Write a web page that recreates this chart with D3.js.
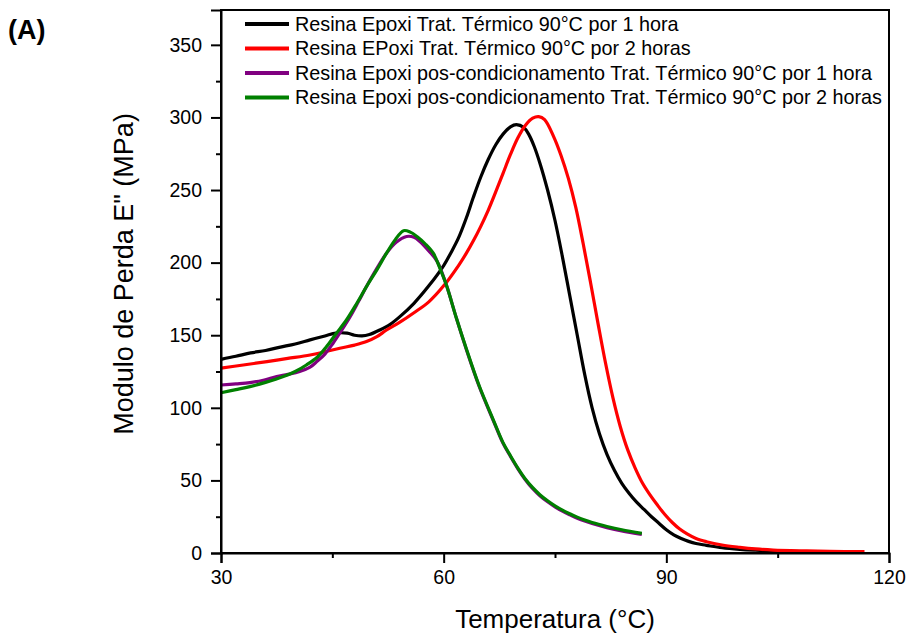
<!DOCTYPE html>
<html>
<head>
<meta charset="utf-8">
<script src="https://cdn.jsdelivr.net/npm/d3@7"></script>
<style>
  body { margin: 0; background: #fff; }
  text { font-family: "Liberation Sans", Arial, sans-serif; fill: #000; }
</style>
</head>
<body>
<svg id="chart" width="910" height="634"></svg>
<script>
// ---------- DATA ----------
const seriesNames = [
  "Resina Epoxi Trat. Térmico 90°C por 1 hora",
  "Resina EPoxi Trat. Térmico 90°C por 2 horas",
  "Resina Epoxi pos-condicionamento Trat. Térmico 90°C por 1 hora",
  "Resina Epoxi pos-condicionamento Trat. Térmico 90°C por 2 horas"
];
const seriesColors = ["#000000", "#ff0000", "#800080", "#008000"];

const tempBlack = [30,32,34,36,38,40,42,44,45.5,47,48,49,50,51.4,52.8,54.1,56,58,60,61,62,63,64,65,66,67,68,69,69.8,70.8,71.5,72.2,73,74,75,76,77,78,79,80,81,82,83,84,85,86,87,88,89,90,91,92,93,94,95.4,97.5,99.9,102,104.4,107,110];
const eBlack    = [133.4,135.5,137.8,139.5,141.8,144,146.8,149.5,151.5,151.4,150,149.5,150.5,153.6,157.5,162.8,172,184,198,207,217,230,245,259,271,281,288.5,293.5,295,293,288,280,268,250,229,204,177,150,123,100,82,68,57,48,41,35,30,25,20.5,16,12.5,10,8,6.5,5.3,3.6,2.5,1.9,1.4,1.1,0.9];

const tempRed = [30,33,36.2,39,42,44,46,48,49.6,51,52.3,54.1,56,58,60,62,63,64,65,66,67,68,69,70,71,72,72.8,73.6,74.8,75.8,76.8,77.8,78.8,79.8,80.8,81.8,82.8,83.8,84.8,85.8,86.8,87.8,88.8,89.8,90.8,91.8,92.8,94,95.4,97.5,99.9,102,104.4,108.9,112,116.7];
const eRed    = [127.3,129.5,131.8,134,136.4,138.6,141,143.2,145.6,149,153.6,159,165.5,173,184,198,206,215,225,236,248.5,261.5,274.5,286,294.5,299.5,300.6,298.5,287,274,258,238,213,186,158,131,107,87,71,58.5,48,40,33,26.5,21,16.5,13.2,10,7.8,5.5,3.9,2.8,2,1.4,1.1,0.9];

const tempPurple = [30,32,33.9,35.7,37.5,39,40.6,42,42.9,44,45.1,46.2,47.4,48.5,49.6,51,52.3,53.6,55,56,56.8,58,59.1,60.4,61.7,63.1,64.8,66.7,68,69,70,71,72,73,74,75,76,77,78,79,80,82,84,86.7];
const ePurple    = [115.7,116.5,117.4,119,121.5,123,125,128,131.8,137,144.5,153,162.8,173,183.5,196,206.5,214,218,217.5,214.5,208,201,184,162,139.5,114.5,91,75.5,66.5,58,50.5,44.3,39.3,35.3,31.8,28.8,26.3,24,22,20.3,17.5,15.2,12.8];

const tempGreen = [30,32,33.9,36,38.4,40,41.5,43,44.2,45.5,46.9,48.3,49.6,51,52.3,53.5,54.6,55.5,56.4,57.5,58.6,59.5,60.4,61.7,63.1,64.8,66.7,68,69,70,71,72,73,74,75,76,77,78,79,80,82,84,86.7];
const eGreen    = [110.4,112.5,114.6,117.5,121.5,125,129.5,135,142,151,160.5,172,183.5,195,206.5,216,222,221,218,213,206.5,196,184,162,140,115,91.6,76,67,58.5,51,45,40,36,32.5,29.5,27,24.7,22.7,21,18.3,16,13.5];

const xTicks = [30, 60, 90, 120];
const xMinorTicks = [45, 75, 105];
const yTicks = [0, 50, 100, 150, 200, 250, 300, 350];
const yMinorTicks = [25, 75, 125, 175, 225, 275, 325];

const xLabel = "Temperatura (°C)";
const yLabel = "Modulo de Perda E\" (MPa)";
const panelLabel = "(A)";

// ---------- CHART ----------
const svg = d3.select("#chart");
const L = 221, R = 889, T = 10, B = 553;
const FONT = "'Liberation Sans', Arial, sans-serif";

const x = d3.scaleLinear().domain([30, 120]).range([L, R]);
const y = d3.scaleLinear().domain([0, 374]).range([B, T]);

const series = [
  {t: tempBlack, e: eBlack},
  {t: tempRed, e: eRed},
  {t: tempPurple, e: ePurple},
  {t: tempGreen, e: eGreen}
].map((s, i) => ({name: seriesNames[i], color: seriesColors[i],
  pts: s.t.map((tv, j) => [tv, s.e[j]])}));

const line = d3.line()
  .x(d => x(d[0])).y(d => y(d[1]))
  .curve(d3.curveCatmullRom.alpha(0.5));

svg.append("g").selectAll("path").data(series).join("path")
  .attr("d", d => line(d.pts))
  .attr("fill", "none")
  .attr("stroke", d => d.color)
  .attr("stroke-width", 3.2)
  .attr("stroke-linejoin", "round")
  .attr("stroke-linecap", "butt");

// frame
svg.append("rect").attr("x", L).attr("y", T).attr("width", R - L).attr("height", B - T)
  .attr("fill", "none").attr("stroke", "#000").attr("stroke-width", 2);

// x axis
const xAxis = svg.append("g").attr("transform", `translate(0,${B})`)
  .call(d3.axisBottom(x).tickValues(xTicks).tickSize(10).tickPadding(7).tickFormat(d3.format("d")));
xAxis.select(".domain").attr("stroke-width", 2);
xAxis.selectAll(".tick line").attr("stroke-width", 2);
xAxis.selectAll(".tick text").attr("font-size", 19.5).attr("font-family", FONT);
svg.append("g").attr("transform", `translate(0,${B})`)
  .call(d3.axisBottom(x).tickValues(xMinorTicks).tickSize(5).tickFormat(""))
  .call(g => g.select(".domain").remove())
  .selectAll(".tick line").attr("stroke-width", 2);

// y axis
const yAxis = svg.append("g").attr("transform", `translate(${L},0)`)
  .call(d3.axisLeft(y).tickValues(yTicks).tickSize(10).tickPadding(9).tickFormat(d3.format("d")));
yAxis.select(".domain").attr("stroke-width", 2);
yAxis.selectAll(".tick line").attr("stroke-width", 2);
yAxis.selectAll(".tick text").attr("font-size", 19.5).attr("font-family", FONT);
svg.append("g").attr("transform", `translate(${L},0)`)
  .call(d3.axisLeft(y).tickValues(yMinorTicks).tickSize(5).tickFormat(""))
  .call(g => g.select(".domain").remove())
  .selectAll(".tick line").attr("stroke-width", 2);

// axis titles
svg.append("text").attr("x", 555).attr("y", 628).attr("text-anchor", "middle")
  .attr("font-size", 26).text(xLabel);
svg.append("text").attr("transform", "translate(133,274) rotate(-90)")
  .attr("text-anchor", "middle").attr("font-size", 27).text(yLabel);

// panel label
svg.append("text").attr("x", 8).attr("y", 39).attr("font-size", 27)
  .attr("font-weight", "bold").text(panelLabel);

// legend
const legY0 = 24, legDy = 24.5;
const leg = svg.append("g");
series.forEach((s, i) => {
  const yy = legY0 + i * legDy;
  leg.append("line").attr("x1", 245).attr("x2", 289).attr("y1", yy).attr("y2", yy)
    .attr("stroke", s.color).attr("stroke-width", 4);
  leg.append("text").attr("x", 295).attr("y", yy).attr("dy", "0.35em")
    .attr("font-size", 19.8).text(s.name);
});
</script>
</body>
</html>
